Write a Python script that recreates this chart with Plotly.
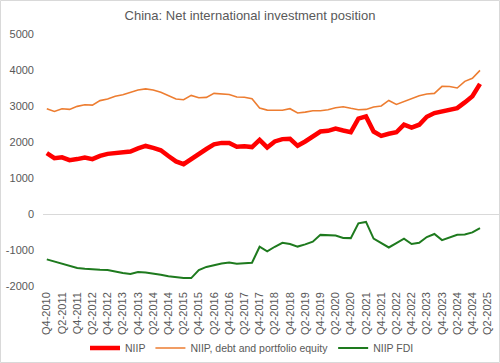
import plotly.graph_objects as go

# Quarters Q4-2010 .. Q3-2025 (60 categories; data through Q1-2025)
quarters = []
y, q = 2010, 4
for _ in range(60):
    quarters.append(f"Q{q}-{y}")
    q += 1
    if q > 4:
        q = 1
        y += 1

niip = [1690, 1550, 1575, 1495, 1525, 1565, 1525, 1615, 1670, 1690,
        1695, 1735, 1820, 1890, 1835, 1770, 1610, 1460, 1385, 1535,
        1690, 1805, 1935, 1975, 1970, 1870, 1880, 1860, 2060, 1850,
        2015, 2080, 2090, 1895, 2015, 2135, 2290, 2310, 2370, 2320,
        2275, 2650, 2710, 2290, 2170, 2230, 2270, 2480, 2400, 2480,
        2700, 2805, 2850, 2895, 2940, 3100, 3270, 3615]

niip_debt_pe = [2925, 2850, 2925, 2905, 2990, 3035, 3025, 3150, 3195, 3270,
                3315, 3390, 3445, 3475, 3445, 3380, 3280, 3195, 3175, 3295,
                3230, 3240, 3350, 3345, 3320, 3250, 3245, 3200, 2945, 2885,
                2890, 2880, 2925, 2805, 2830, 2870, 2870, 2895, 2950, 2980,
                2935, 2895, 2905, 2970, 3000, 3155, 3045, 3130, 3220, 3285,
                3335, 3350, 3545, 3540, 3500, 3685, 3770, 3990]

niip_fdi = [-1260, -1320, -1390, -1460, -1500, -1520, -1540, -1550, -1555, -1600,
            -1640, -1665, -1610, -1625, -1650, -1690, -1730, -1760, -1780, -1780,
            -1560, -1470, -1420, -1375, -1350, -1380, -1365, -1355, -910, -1040,
            -910, -800, -835, -905, -845, -770, -580, -590, -600, -665,
            -670, -260, -220, -685, -815, -930, -810, -685, -835, -800,
            -640, -555, -725, -660, -575, -570, -510, -390]

y_ticks = [-2000, -1000, 0, 1000, 2000, 3000, 4000, 5000]
y_tick_labels = ["-2000", "-1000", "0", "1000", "2000", "3000", "4000", "5000"]

n = len(niip)
xi = list(range(n))                      # category positions on the axis
tick_pos = list(range(0, len(quarters), 2))
tick_txt = [quarters[i] for i in tick_pos]

fig = go.Figure()
fig.add_trace(go.Scatter(x=xi, y=niip, mode="lines", name="NIIP",
                         text=quarters[:n],
                         line=dict(color="#FF0000", width=4.5)))
fig.add_trace(go.Scatter(x=xi, y=niip_debt_pe, mode="lines",
                         name="NIIP, debt and portfolio equity",
                         text=quarters[:n],
                         line=dict(color="#ED7D31", width=1.6)))
fig.add_trace(go.Scatter(x=xi, y=niip_fdi, mode="lines", name="NIIP FDI",
                         text=quarters[:n],
                         line=dict(color="#1E7A1E", width=2)))

W, H = 500, 363
ml, mr, mt, mb = 43, 1, 34, 77
pw, ph = W - ml - mr, H - mt - mb

font = "Liberation Sans"
fig.update_layout(
    width=W, height=H,
    margin=dict(l=ml, r=mr, t=mt, b=mb, pad=0, autoexpand=False),
    paper_bgcolor="white", plot_bgcolor="white",
    title=dict(text="China: Net international investment position",
               x=(250 - ml) / pw, xref="paper", xanchor="center",
               y=1 - 15 / H, yanchor="middle",
               font=dict(family=font, size=13, color="#595959")),
    showlegend=True,
    legend=dict(orientation="h", x=(252 - ml) / pw, xanchor="center",
                y=-(348 - (mt + ph)) / ph, yanchor="middle",
                font=dict(family=font, size=10.5, color="#595959"),
                itemwidth=30, tracegroupgap=0, bgcolor="rgba(0,0,0,0)"),
    xaxis=dict(range=[-0.5, len(quarters) - 0.5], automargin=False,
               tickmode="array", tickvals=tick_pos, ticktext=tick_txt,
               tickangle=-90, showgrid=False, showline=False, zeroline=False,
               ticks="", ticklabelstandoff=3,
               tickfont=dict(family=font, size=11, color="#595959")),
    yaxis=dict(range=[-2000, 5000], tickmode="array", tickvals=y_ticks,
               ticktext=y_tick_labels, showgrid=False, showline=False,
               zeroline=True, zerolinecolor="#D9D9D9", zerolinewidth=1,
               ticks="", ticklabelstandoff=8, automargin=False,
               tickfont=dict(family=font, size=11, color="#595959")),
    shapes=[dict(type="rect", xref="paper", yref="paper",
                 x0=-(ml - 0.5) / pw, x1=1 + (mr - 0.5) / pw,
                 y0=-(mb - 0.5) / ph, y1=1 + (mt - 0.5) / ph,
                 line=dict(color="#D9D9D9", width=1), layer="below")],
)

fig.write_html("out.html",
               config={"displayModeBar": False},
               post_script="document.body.style.margin='0';"
                           "document.body.style.padding='0';"
                           "document.body.style.overflow='hidden';")
